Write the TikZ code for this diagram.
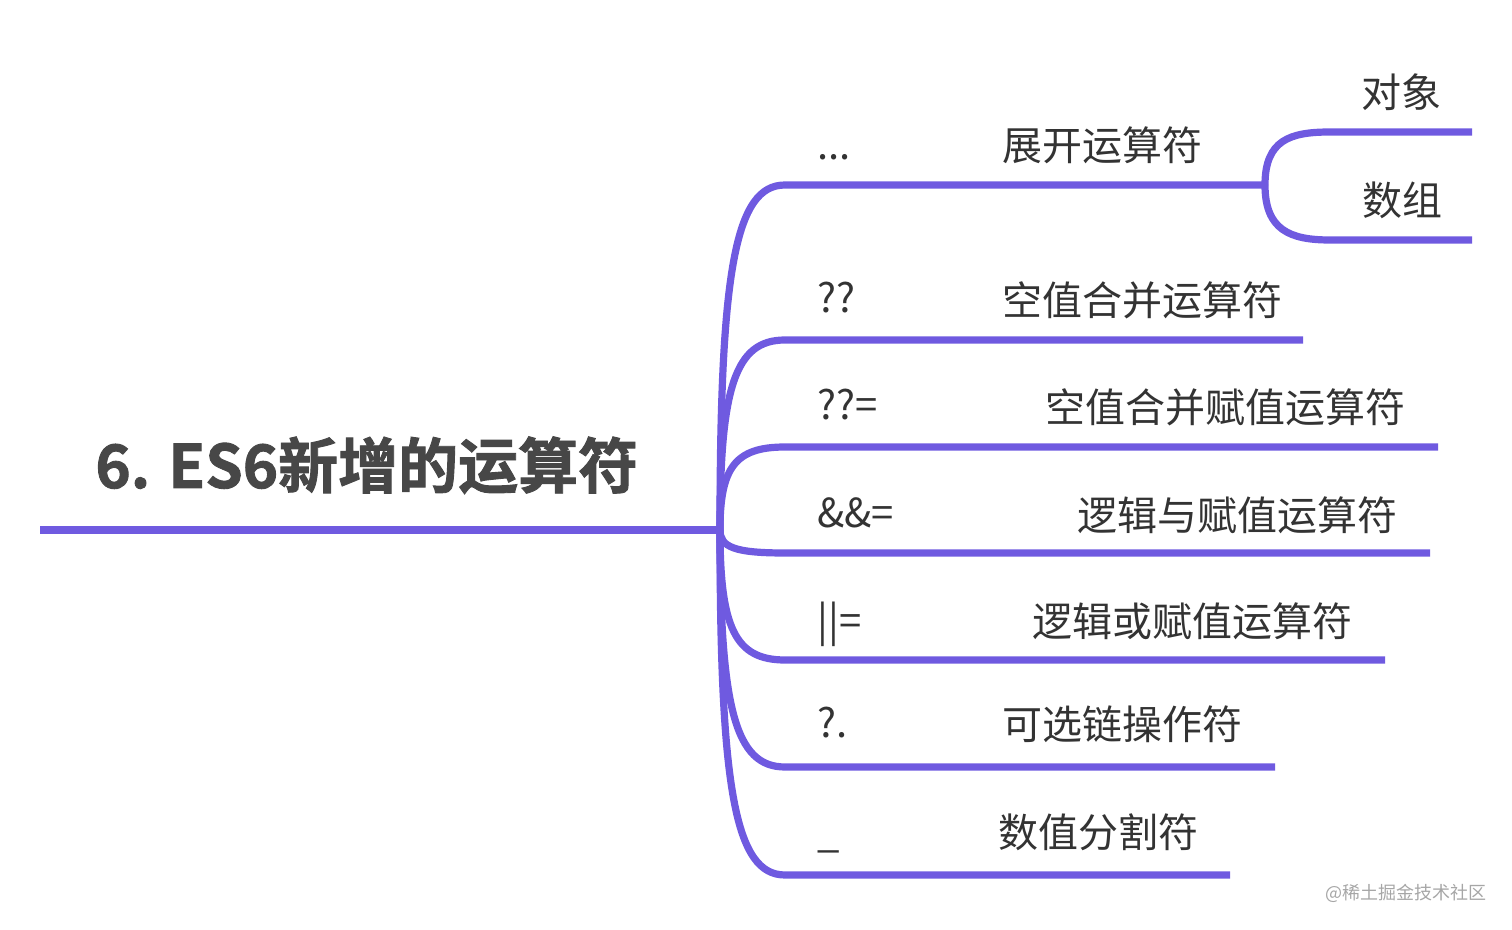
\documentclass[tikz,border=0pt]{standalone}
\usepackage{fontspec}
\setmainfont{Noto Sans CJK SC}
\newfontfamily\cjkb[FakeBold=1.5]{Noto Sans CJK SC Bold}
\definecolor{pur}{HTML}{6F5AE0}
\definecolor{txt}{HTML}{333333}
\begin{document}
\begin{tikzpicture}[x=0.5pt,y=-0.5pt,
  br/.style={draw=pur,line width=3.6pt,line cap=butt},
  lab/.style={text=txt,font=\fontsize{20}{20}\selectfont,inner sep=0pt},
  sym/.style={lab,anchor=base west}]
\useasboundingbox (0,0) rectangle (1512,930);
\coordinate (root) at (720,530);
\draw[br] (40,530) -- (root);
\foreach \n/\y/\e in {a/185/1265,b/340/1303,c/447/1438,d/553/1430,e/660/1385,f/767/1275,g/875/1230}{
  \coordinate (\n s) at (785,\y);
  \coordinate (\n e) at (\e,\y);
  \draw[br] (root) .. controls (720,{530+(\y-530)*0.75}) and (735,\y) .. (\n s) -- (\n e);
}
\coordinate (o) at (1330,132); \coordinate (oe) at (1472,132);
\coordinate (s) at (1330,240); \coordinate (se) at (1472,240);
\draw[br] (ae) .. controls (1265,140) and (1290,132) .. (o) -- (oe);
\draw[br] (ae) .. controls (1265,230) and (1290,240) .. (s) -- (se);
\node[text=txt!90!white,font=\cjkb\fontsize{30}{30}\selectfont,anchor=base west,inner sep=0pt] (title) at (95,488) {6. ES6新增的运算符};
\node[sym] (la) at (817,160) {...};
\node[sym] (lb) at (817,313) {??};
\node[sym] (lc) at (817,420) {??=};
\node[sym] (ld) at (817,528) {\&\&=};
\node[sym] (le) at (817,636) {||=};
\node[sym] (lf) at (817,738) {?.};
\node[sym] (lg) at (817,848) {\_};
\node[lab] (ta) at (1102,145) {展开运算符};
\node[lab] (tb) at (1142,300) {空值合并运算符};
\node[lab] (tc) at (1225,407) {空值合并赋值运算符};
\node[lab] (td) at (1237,515) {逻辑与赋值运算符};
\node[lab] (te) at (1192,621) {逻辑或赋值运算符};
\node[lab] (tf) at (1122,724) {可选链操作符};
\node[lab] (tg) at (1098,832) {数值分割符};
\node[lab] (to) at (1401,92) {对象};
\node[lab] (ts) at (1402,200) {数组};
\node[text=gray!70,font=\fontsize{9}{9}\selectfont,inner sep=0pt] (wm) at (1406,893) {@稀土掘金技术社区};
\end{tikzpicture}
\end{document}
